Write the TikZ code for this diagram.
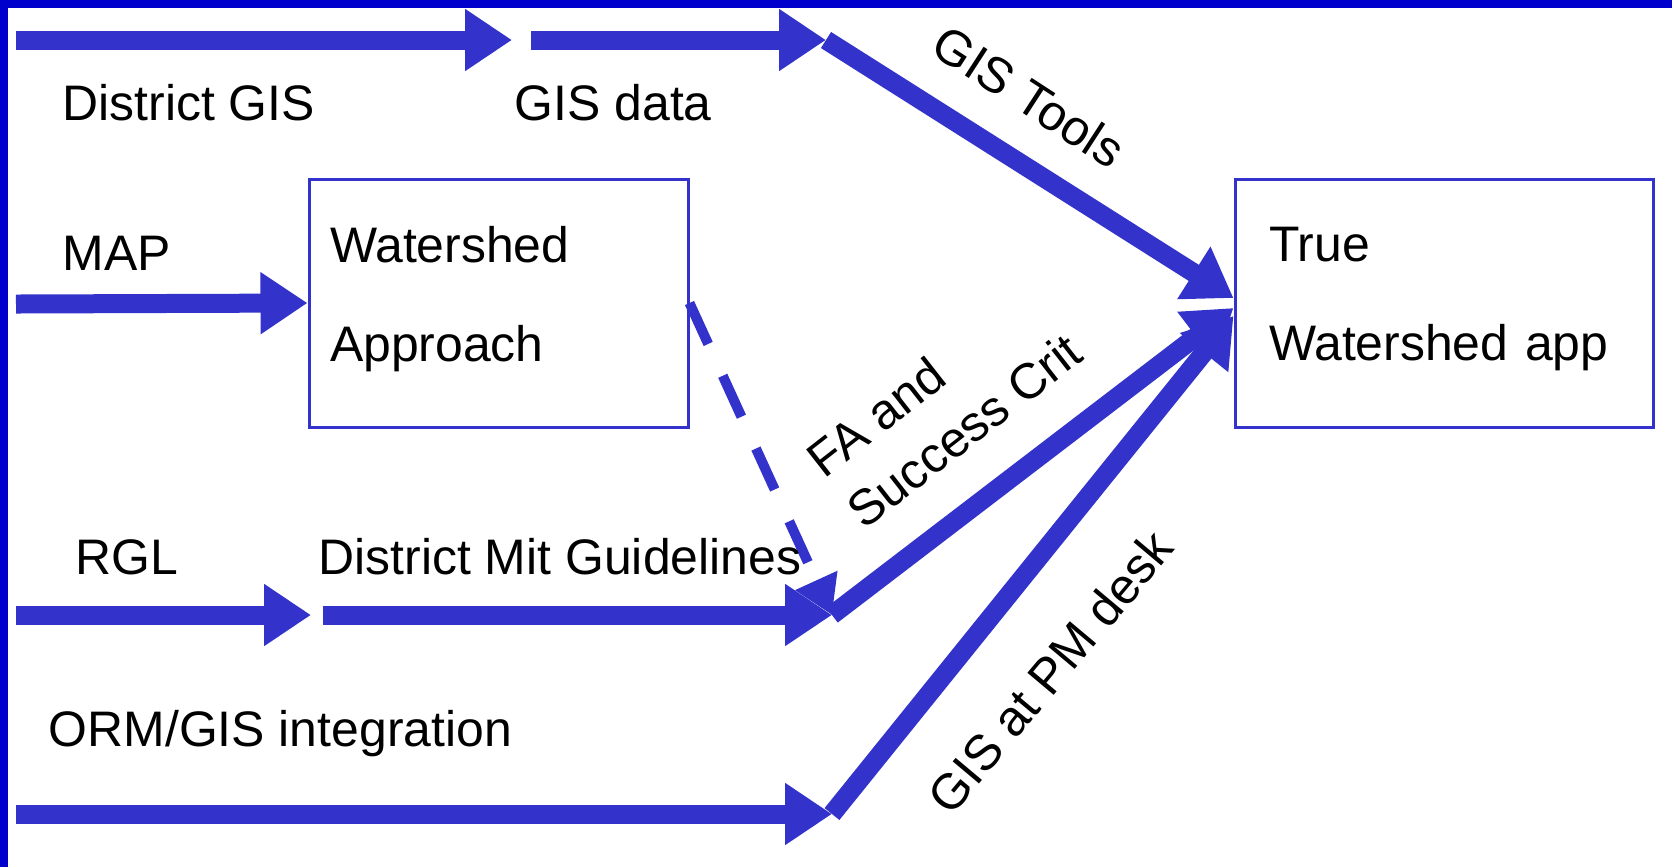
\documentclass[tikz,border=0pt]{standalone}
\usepackage{fontspec}
\setmainfont{Liberation Sans}
\usepackage{tikz}
\usetikzlibrary{arrows.meta}
\definecolor{flowblue}{HTML}{3333CC}
\definecolor{frameblue}{HTML}{0000CC}
\tikzstyle{txt}=[inner sep=0pt,font=\fontsize{14.2pt}{18.5pt}\selectfont]
\tikzstyle{box}=[draw=flowblue,line width=0.3mm,rectangle,minimum height=24.8mm,align=left,text depth=11.8mm,font=\fontsize{14.2pt}{28.2pt}\selectfont]
\tikzstyle{flow} = [draw=flowblue,line width=1.9mm,-{Triangle[length=4.7mm,width=5.9mm]}]
\tikzstyle{hint} = [draw=flowblue,line width=1mm,dash pattern=on 4.5mm off 3.5mm,-{Triangle[length=3.8mm,width=4.4mm]}]

\begin{document}
\begin{tikzpicture}[x=0.1mm,y=-0.1mm]
    \useasboundingbox (0,0) rectangle (1672,867);
    \fill[white] (0,0) rectangle (1672,867);
    \fill[frameblue] (0,0) rectangle (1672,8);
    \fill[frameblue] (0,0) rectangle (8,867);
    % First we draw the two boxes
    \node[box,minimum width=37.9mm,inner xsep=2.1mm,text width=33.7mm] (ws) at (498.5,303) {Watershed\\Approach};
    \node[box,minimum width=41.8mm,inner xsep=3.4mm,text width=35mm] (true) at (1444,303) {True\\Watershed app};
    % Ends of the straight arrows
    \coordinate (a0) at (16,40);
    \coordinate (a1) at (512,40);
    \coordinate (a2) at (531,40);
    \coordinate (a3) at (826,40);
    \coordinate (m0) at (16,304);
    \coordinate (r0) at (16,615);
    \coordinate (r1) at (311,615);
    \coordinate (r2) at (323,615);
    \coordinate (r3) at (832,615);
    \coordinate (o0) at (16,814);
    \coordinate (o1) at (832,814);
    % Straight arrows
    \path[flow] (a0) -- (a1);
    \path[flow] (a2) -- (a3);
    \path[flow] (m0) -- (ws.west);
    \path[flow] (r0) -- (r1);
    \path[flow] (r2) -- (r3);
    \path[flow] (o0) -- (o1);
    % Arrows into the right box
    \path[flow] (a3) -- ([yshift=0.5mm]true.west);
    \path[flow] (r3) -- ([yshift=-0.5mm]true.west);
    \path[flow] (o1) -- ([yshift=-1.3mm]true.west);
    \path[hint] (ws.east) -- (r3);
    % Labels
    \node[txt,anchor=base west] (dgis) at (62,120) {District GIS};
    \node[txt,anchor=base west] (gdata) at (514,120) {GIS data};
    \node[txt,anchor=base west] (map) at (62,270) {MAP};
    \node[txt,anchor=base west] (rgl) at (75,574) {RGL};
    \node[txt,anchor=base west] (dmit) at (318,574) {District Mit Guidelines};
    \node[txt,anchor=base west] (orm) at (48,746) {ORM/GIS integration};
    \node[txt,rotate=-33] (tools) at (1029,96) {GIS Tools};
    \node[txt,rotate=38,align=left] (fa) at (944,405) {FA and\\Success Crit};
    \node[txt,rotate=50] (pm) at (1050,672) {GIS at PM desk};
\end{tikzpicture}
\end{document}
